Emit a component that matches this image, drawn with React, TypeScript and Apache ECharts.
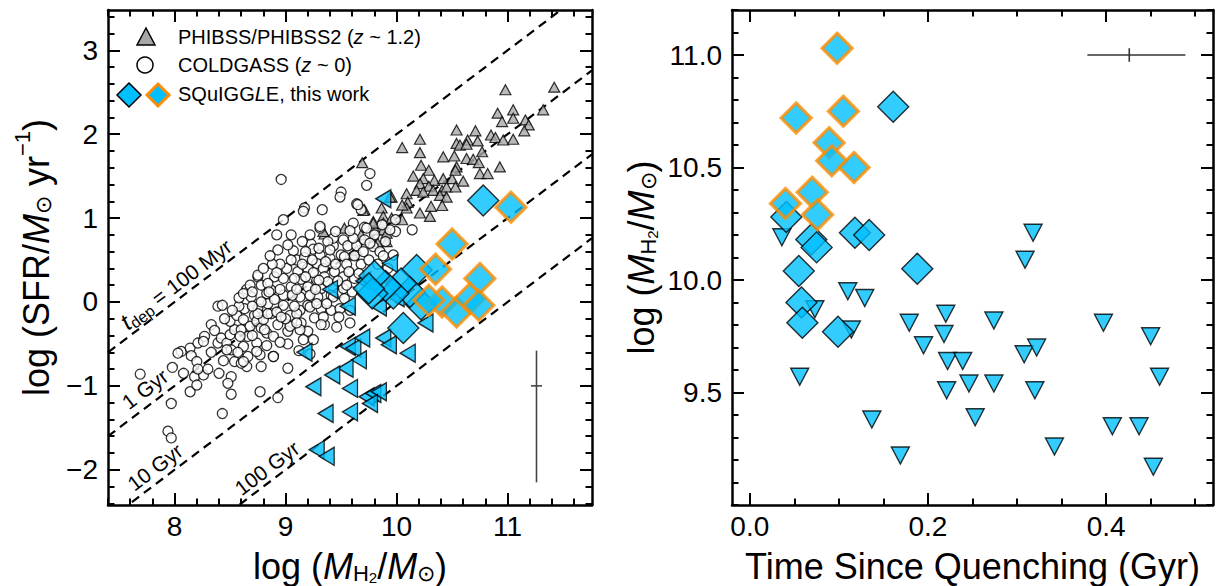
import React, { useEffect, useRef } from 'react';
import * as echarts from 'echarts';

// ---------- DATA (left panel: log M_H2 vs log SFR) ----------
const coldgass: [number, number][] = [
  [7.69,-0.86],[7.97,-1.21],[8.43,-1.33],[7.98,-0.78],[8.06,-0.59],[8.03,-0.61],[8.14,-0.55],[8.21,-0.49],[8.27,-0.41],[8.26,-0.47],
  [8.15,-0.64],[8.20,-0.71],[8.08,-0.85],[8.18,-0.89],[8.26,-0.87],[8.21,-0.80],[8.14,-1.07],[8.20,-0.99],[8.33,-0.27],[8.36,-0.34],
  [8.39,-0.49],[8.42,-0.43],[8.39,-0.05],[8.43,-0.04],[8.47,-0.49],[8.50,-0.39],[8.54,-0.33],[8.50,-0.23],[8.56,-0.16],[8.63,-0.08],
  [8.65,0.15],[8.62,-0.21],[8.60,-0.33],[8.68,-0.29],[8.66,-0.41],[8.59,-0.41],[8.51,-0.57],[8.62,-0.53],[8.54,-0.71],[8.65,-0.77],
  [8.60,-0.73],[8.51,-0.89],[8.48,-0.97],[8.51,-1.10],[8.66,-0.65],[8.77,-0.63],[8.78,-0.77],[8.77,-1.07],[8.74,-0.49],[8.69,0.06],
  [8.75,-0.08],[8.72,-0.16],[8.74,-0.23],[8.78,-0.31],[8.83,-0.37],[8.80,-0.21],[8.75,0.30],[8.78,0.20],[8.83,0.10],[8.84,-0.02],
  [8.87,-0.14],[8.87,0.14],[8.89,-0.65],
  [8.96,1.46],[9.76,1.53],[9.73,1.39],[9.50,1.31],[9.49,1.25],[9.64,1.17],[9.68,1.10],[9.17,1.12],[9.16,1.08],[9.33,1.10],
  [8.98,0.98],[9.31,0.88],[9.61,0.94],[9.71,0.89],[9.99,0.98],[9.99,0.84],[9.07,0.61],[9.23,0.69],[9.25,0.63],[9.31,0.56],
  [9.43,0.67],[9.52,0.74],[9.56,0.67],[9.64,0.67],[9.71,0.74],[9.79,0.66],[9.97,0.56],[9.10,0.50],[9.17,0.53],[9.28,0.46],
  [9.40,0.52],[9.50,0.56],[9.34,0.40],[9.20,0.40],[9.11,0.36],[9.01,0.40],[8.90,0.30],[8.75,0.32],[8.84,0.22],[8.98,0.28],
  [9.05,0.18],[9.14,0.27],[9.20,0.18],[9.28,0.26],[9.32,0.16],[9.44,0.36],[9.52,0.30],[9.43,0.18],[9.29,0.06],[9.13,0.06],
  [8.98,0.08],[8.90,0.03],[8.78,0.00],[8.75,-0.14],[8.84,-0.14],[8.98,-0.04],[9.04,-0.16],[9.13,-0.10],[9.20,-0.04],[9.32,-0.08],
  [9.41,-0.10],[9.26,-0.19],[9.14,-0.25],[8.93,-0.27],[8.81,-0.33],[9.02,-0.35],[9.20,-0.35],[9.35,-0.27],[9.58,-0.25],[9.47,0.10],
  [9.53,0.04],[9.52,0.16],[9.41,0.08],
  [7.94,-1.54],[7.97,-1.62],[8.93,-1.14],[9.02,-0.79],[8.89,-0.65],[9.16,-0.45],[9.25,-0.45],[9.34,-0.18],[9.32,-0.27],[9.13,-0.33],
  [9.04,-0.29],[8.89,-0.41],[9.58,-0.10],[9.49,-0.08],[9.43,0.06],[9.22,-0.06],[9.10,-0.14],[8.74,-0.59],[8.62,-0.71],[8.47,-0.57],
  [9.30,0.64],[9.43,0.76],[9.53,0.54],[9.61,0.76],[9.65,1.16],[9.94,0.86],[10.14,0.86],[9.31,0.90],[9.73,0.88],
  [8.95,0.45],[9.05,0.50],[9.15,0.45],[9.25,0.35],[9.35,0.30],[9.45,0.45],[9.55,0.45],[9.62,0.55],[9.68,0.45],[9.75,0.50],
  [9.85,0.60],[9.90,0.72],[9.80,0.80],[9.58,0.85],[9.45,0.84],[9.38,0.72],[9.15,0.72],[9.05,0.80],[8.93,0.62],[8.88,0.45],
  [8.95,0.15],[9.08,0.28],[9.22,0.08],[9.37,-0.02],[9.48,-0.18],[9.38,0.24],[9.62,0.28],[9.08,-0.05],[8.92,-0.12],[8.85,0.12],
  [9.00,-0.20],[9.10,-0.25],[9.30,0.26],[8.70,-0.05],[8.58,-0.05],[8.68,0.20],[8.92,0.80],[9.02,0.68],[9.22,0.80],[9.87,0.92],
  [8.45,-0.20],[8.52,-0.10],[8.58,0.05],[8.62,0.10],[8.70,0.12],[8.80,0.40],[8.86,0.55],[8.92,0.35],[8.96,-0.18],[9.06,0.08],
  [9.10,0.15],[9.18,0.30],[9.24,0.50],[9.27,0.15],[9.36,0.48],[9.40,0.62],[9.47,0.25],[9.57,0.36],[9.60,0.12],[9.66,0.34],
  [9.70,0.60],[9.76,0.70],[9.83,0.45],[9.88,0.55],[9.92,0.40],[9.02,-0.50],[9.12,-0.58],[9.22,-0.62],[8.95,-0.48],[8.83,-0.52],
  [8.70,-0.40],[8.57,-0.60],[8.44,-0.70],[8.33,-0.60],[8.30,-0.80],[8.40,-0.85],[9.28,-0.02],[9.18,0.60],[9.55,0.20],[9.46,-0.30]
];

const phibss: [number, number][] = [
  [10.98,2.53],[11.42,2.56],[11.32,2.29],[10.91,2.25],[11.05,2.29],[11.05,2.19],[10.95,2.15],[11.16,2.17],[11.19,2.11],[11.15,2.04],
  [10.54,2.05],[10.71,2.04],[10.21,1.94],[10.05,1.84],[10.85,1.99],[10.89,1.96],[10.96,1.93],[11.05,1.94],[10.54,1.89],[10.64,1.93],
  [10.57,1.87],[10.73,1.92],[10.63,1.88],[10.21,1.78],[10.42,1.73],[10.52,1.74],[10.63,1.71],[10.77,1.79],[10.69,1.70],[10.74,1.66],
  [10.22,1.63],[10.54,1.61],[10.29,1.57],[10.15,1.50],[10.24,1.47],[10.34,1.45],[10.42,1.47],[10.50,1.47],[10.53,1.57],[10.60,1.44],
  [10.75,1.53],[10.82,1.53],[10.93,1.61],[10.21,1.41],[10.29,1.38],[10.18,1.33],[10.24,1.31],[10.33,1.33],[10.41,1.33],[10.45,1.37],
  [10.53,1.37],[10.09,1.29],[10.39,1.27],[10.45,1.25],[10.10,1.19],[10.09,1.12],[10.31,1.14],[10.41,1.15],[10.21,1.06],[10.30,1.02],
  [9.955,1.25],[9.69,1.66],[9.94,1.25],[9.865,1.12],[9.71,1.10],[9.88,1.02],[9.79,0.96],[9.53,0.88],[9.35,0.81],[9.68,0.80],
  [9.81,0.86],[9.88,0.86],[9.91,0.72],[9.79,0.72],[9.61,0.56],[10.05,1.155],[10.05,0.98],[9.955,1.00],[9.34,0.84],[9.70,1.09],
  [9.79,0.94],[9.88,0.94],[9.91,0.82],[9.83,0.70],[9.64,0.62]
];

const squiggleLimits: [number, number][] = [
  [9.88,1.23],[9.40,0.15],[9.56,-0.05],[9.84,-0.06],[10.26,-0.25],[9.17,-0.60],[9.56,-0.53],[9.61,-0.55],[9.69,-0.43],[9.88,-0.43],
  [9.93,-0.51],[10.10,-0.61],[9.66,-0.69],[9.54,-0.79],[9.42,-0.87],[9.25,-1.01],[9.58,-1.03],[9.73,-1.13],[9.79,-1.09],[9.84,-1.07],
  [9.76,-1.21],[9.36,-1.33],[9.58,-1.31],[9.28,-1.76],[9.37,-1.84],[9.94,0.46],[10.00,0.05],[9.70,0.25]
];
const squiggleDet: [number, number][] = [
  [10.78,1.21],[10.22,-0.03],[10.18,0.38],[10.12,0.12],[10.06,-0.31],[10.04,0.22],[9.97,0.10],[9.90,0.19],[9.80,0.31],[9.78,0.10],[9.75,0.16]
];
const squiggleDetOrange: [number, number][] = [
  [11.03,1.13],[10.50,0.69],[10.35,0.39],[10.75,0.28],[10.41,0.00],[10.29,0.02],[10.54,-0.12],[10.66,0.04],[10.74,-0.04]
];
const depletionLogYr = [8, 9, 10, 11];
const leftErrX = [11.26, 11.21, 11.31];
const leftErrY = [-0.58, -2.15, -1.0];

// ---------- DATA (right panel: time since quenching vs log M_H2) ----------
const quenchLimits: [number, number][] = [
  [0.036,10.19],[0.110,9.95],[0.129,9.92],[0.073,9.87],[0.114,9.78],[0.056,9.57],[0.318,10.21],[0.309,10.09],[0.179,9.81],[0.220,9.85],
  [0.195,9.71],[0.218,9.76],[0.274,9.82],[0.222,9.64],[0.239,9.64],[0.308,9.67],[0.322,9.70],[0.221,9.51],[0.246,9.54],[0.274,9.54],
  [0.320,9.51],[0.253,9.39],[0.397,9.81],[0.450,9.75],[0.460,9.57],[0.407,9.35],[0.437,9.35],[0.342,9.26],[0.453,9.17],[0.137,9.38],[0.169,9.22]
];
const quenchDet: [number, number][] = [
  [0.161,10.77],[0.041,10.28],[0.069,10.18],[0.075,10.145],[0.118,10.21],[0.134,10.20],[0.055,10.04],[0.188,10.05],[0.058,9.90],[0.059,9.81],[0.099,9.77]
];
const quenchDetOrange: [number, number][] = [
  [0.098,11.03],[0.052,10.72],[0.105,10.75],[0.089,10.61],[0.092,10.53],[0.117,10.50],[0.070,10.39],[0.040,10.34],[0.076,10.29]
];
const rightErrX = [0.379, 0.489, 0.426];
const rightErrY = [11.0, 10.97, 11.03];

const leftXTicks = [8, 9, 10, 11];
const leftYTicks = [-2, -1, 0, 1, 2, 3];
const rightXTicks = [0, 0.2, 0.4];
const rightYTicks = [9.5, 10, 10.5, 11];

// ---------- styling ----------
const FONT = '"Liberation Sans", Arial, Helvetica, sans-serif';
const BLUE = '#00BFFF';
const ORANGE = '#FF8C00';
const TITLE = 36;
const LH = 44;

function minors(lo: number, hi: number, step: number, majors: number[]) {
  const out: number[] = [];
  const n0 = Math.ceil(lo / step - 1e-9), n1 = Math.floor(hi / step + 1e-9);
  for (let k = n0; k <= n1; k++) {
    const v = +(k * step).toFixed(5);
    if (!majors.some((m) => Math.abs(m - v) < 1e-6)) out.push(v);
  }
  return out;
}

const nameRich = {
  a: { fontSize: TITLE, fontFamily: FONT, color: '#000', lineHeight: LH, verticalAlign: 'middle' },
  i: { fontSize: TITLE, fontFamily: FONT, fontStyle: 'italic', color: '#000', lineHeight: LH, verticalAlign: 'middle' },
  s: { fontSize: 22, fontFamily: FONT, color: '#000', lineHeight: LH, verticalAlign: 'middle', padding: [14, 0, 0, 0] },
  ss: { fontSize: 15, fontFamily: FONT, color: '#000', lineHeight: LH, verticalAlign: 'middle', padding: [22, 0, 0, 0] },
  p: { fontSize: 22, fontFamily: FONT, color: '#000', lineHeight: LH, verticalAlign: 'middle', padding: [0, 0, 28, 0] },
};

function axes(dim: 'x' | 'y', gridIndex: number, min: number, max: number, majors: number[], minorVals: number[],
  fmt: (v: number) => string, name: string, nameGap: number) {
  const pos = dim === 'x' ? ['bottom', 'top'] : ['left', 'right'];
  const base = { type: 'value', gridIndex, min, max, splitLine: { show: false }, minorTick: { show: false }, silent: true };
  const line = { show: true, onZero: false, lineStyle: { color: '#000', width: 2.5 } };
  const noLine = { show: false, onZero: false };
  const majTick = { show: true, inside: true, length: 12, customValues: majors, lineStyle: { color: '#000', width: 2 } };
  const minTick = { show: true, inside: true, length: 6.5, customValues: minorVals, lineStyle: { color: '#000', width: 2 } };
  return [
    {
      ...base, position: pos[0], axisLine: line, axisTick: majTick,
      axisLabel: { show: true, customValues: majors, formatter: fmt, fontSize: 28, fontFamily: FONT, color: '#000', margin: dim === 'x' ? 7 : 10 },
      name, nameLocation: 'middle', nameGap,
      nameTextStyle: { rich: nameRich, fontSize: TITLE, fontFamily: FONT, color: '#000', lineHeight: LH },
    },
    { ...base, position: pos[0], axisLine: noLine, axisTick: minTick, axisLabel: { show: false } },
    { ...base, position: pos[1], axisLine: line, axisTick: majTick, axisLabel: { show: false } },
    { ...base, position: pos[1], axisLine: noLine, axisTick: minTick, axisLabel: { show: false } },
  ];
}

const fmtInt = (v: number) => (v < 0 ? '\u2212' + Math.abs(v) : String(v));
const fmt1 = (v: number) => v.toFixed(1);

const LX: [number, number] = [7.4, 11.76];
const LY: [number, number] = [-2.42, 3.48];
const RX: [number, number] = [-0.02, 0.52];
const RY: [number, number] = [9.0, 11.2];

function buildOption() {
  const xAxis = [
    ...axes('x', 0, LX[0], LX[1], leftXTicks, minors(LX[0], LX[1], 0.2, leftXTicks), fmtInt,
      '{a|log (}{i|M}{s|H}{ss|2}{a|/}{i|M}{s|\u2299}{a|)}', 24),
    ...axes('x', 1, RX[0], RX[1], rightXTicks, minors(RX[0], RX[1], 0.05, rightXTicks), fmt1,
      '{a|Time Since Quenching (Gyr)}', 24),
  ];
  const yAxis = [
    ...axes('y', 0, LY[0], LY[1], leftYTicks, minors(LY[0], LY[1], 0.2, leftYTicks), fmtInt,
      '{a|log (SFR/}{i|M}{s|\u2299}{a| yr}{p|\u22121}{a|)}', 50),
    ...axes('y', 1, RY[0], RY[1], rightYTicks, minors(RY[0], RY[1], 0.1, rightYTicks), fmt1,
      '{a|log (}{i|M}{s|H}{ss|2}{a|/}{i|M}{s|\u2299}{a|)}', 58),
  ];

  const dashSeries = depletionLogYr.map((t) => ({
    type: 'line', xAxisIndex: 0, yAxisIndex: 0, symbol: 'none', clip: true, silent: true,
    data: [[LX[0], LX[0] - t], [LX[1], LX[1] - t]],
    lineStyle: { color: '#000', width: 2.2, type: [9, 6] }, z: 1,
  }));

  const errLine = (xi: number, data: number[][], color: string) => ({
    type: 'line', xAxisIndex: xi, yAxisIndex: xi, symbol: 'none', clip: false, silent: true, data,
    lineStyle: { color, width: 1.6 }, z: 2,
  });

  const series: any[] = [
    ...dashSeries,
    {
      type: 'scatter', xAxisIndex: 0, yAxisIndex: 0, data: phibss, symbol: 'triangle', symbolSize: [11, 10],
      itemStyle: { color: '#a8a8a8', borderColor: '#000', borderWidth: 1.2 }, z: 3,
    },
    {
      type: 'scatter', xAxisIndex: 0, yAxisIndex: 0, data: coldgass, symbol: 'circle', symbolSize: 10,
      itemStyle: { color: '#fff', borderColor: '#000', borderWidth: 1.3 }, z: 3,
    },
    {
      type: 'scatter', xAxisIndex: 0, yAxisIndex: 0, data: squiggleLimits, symbol: 'triangle', symbolRotate: 90, symbolSize: [18, 15],
      itemStyle: { color: BLUE, borderColor: '#000', borderWidth: 1.4 }, z: 4,
    },
    {
      type: 'scatter', xAxisIndex: 0, yAxisIndex: 0, data: squiggleDet, symbol: 'diamond', symbolSize: 31,
      itemStyle: { color: BLUE, borderColor: '#000', borderWidth: 1.4 }, z: 5,
    },
    {
      type: 'scatter', xAxisIndex: 0, yAxisIndex: 0, data: squiggleDetOrange, symbol: 'diamond', symbolSize: 30,
      itemStyle: { color: BLUE, borderColor: ORANGE, borderWidth: 3.2 }, z: 6,
    },
    errLine(0, [[leftErrX[0], leftErrY[0]], [leftErrX[0], leftErrY[1]]], '#444'),
    errLine(0, [[leftErrX[1], leftErrY[2]], [leftErrX[2], leftErrY[2]]], '#444'),

    {
      type: 'scatter', xAxisIndex: 4, yAxisIndex: 4, data: quenchLimits, symbol: 'triangle', symbolRotate: 180, symbolSize: [18, 17],
      itemStyle: { color: BLUE, borderColor: '#000', borderWidth: 1.4 }, z: 4,
    },
    {
      type: 'scatter', xAxisIndex: 4, yAxisIndex: 4, data: quenchDet, symbol: 'diamond', symbolSize: 31,
      itemStyle: { color: BLUE, borderColor: '#000', borderWidth: 1.4 }, z: 5,
    },
    {
      type: 'scatter', xAxisIndex: 4, yAxisIndex: 4, data: quenchDetOrange, symbol: 'diamond', symbolSize: 30,
      itemStyle: { color: BLUE, borderColor: ORANGE, borderWidth: 3.2 }, z: 6,
    },
    errLine(4, [[rightErrX[0], rightErrY[0]], [rightErrX[1], rightErrY[0]]], '#333'),
    errLine(4, [[rightErrX[2], rightErrY[1]], [rightErrX[2], rightErrY[2]]], '#333'),
  ];

  const legRich = {
    a: { fontSize: 20, fontFamily: FONT, fill: '#000' },
    i: { fontSize: 20, fontFamily: FONT, fontStyle: 'italic', fill: '#000' },
  };
  const lineLabRich = {
    a: { fontSize: 21, fontFamily: FONT, fill: '#000', lineHeight: 28, verticalAlign: 'middle' },
    i: { fontSize: 24, fontFamily: FONT, fontStyle: 'italic', fill: '#000', lineHeight: 28, verticalAlign: 'middle' },
    s: { fontSize: 16, fontFamily: FONT, fill: '#000', lineHeight: 28, verticalAlign: 'middle', padding: [12, 0, 0, 0] },
  };
  const ROT = Math.atan2(495 / (LY[1] - LY[0]), 484 / (LX[1] - LX[0]));
  const lineLabel = (x: number, y: number, text: string) => ({
    type: 'text', x, y, rotation: ROT, z: 10,
    style: { text, rich: lineLabRich, align: 'center', verticalAlign: 'middle', font: `21px ${FONT}` },
  });

  const graphic = [
    { type: 'polygon', shape: { points: [[146, 28], [137, 45], [155, 45]] }, style: { fill: '#a8a8a8', stroke: '#000', lineWidth: 1.5 }, z: 10 },
    { type: 'circle', shape: { cx: 145, cy: 65, r: 8 }, style: { fill: '#fff', stroke: '#000', lineWidth: 1.5 }, z: 10 },
    { type: 'polygon', shape: { points: [[129, 83], [141, 95], [129, 107], [117, 95]] }, style: { fill: BLUE, stroke: '#000', lineWidth: 1.5 }, z: 10 },
    { type: 'polygon', shape: { points: [[158, 84], [169, 95], [158, 106], [147, 95]] }, style: { fill: BLUE, stroke: ORANGE, lineWidth: 3 }, z: 10 },
    { type: 'text', x: 178, y: 37, z: 10, style: { text: '{a|PHIBSS/PHIBSS2 (}{i|z}{a| ~ 1.2)}', rich: legRich, verticalAlign: 'middle', font: `20px ${FONT}` } },
    { type: 'text', x: 178, y: 65, z: 10, style: { text: '{a|COLDGASS (}{i|z}{a| ~ 0)}', rich: legRich, verticalAlign: 'middle', font: `20px ${FONT}` } },
    { type: 'text', x: 178, y: 94, z: 10, style: { text: '{a|SQuIGG}{i|L}{a|E, this work}', rich: legRich, verticalAlign: 'middle', font: `20px ${FONT}` } },
    lineLabel(176, 284, '{i|t}{s|dep}{a| = 100 Myr}'),
    lineLabel(145, 389, '{a|1 Gyr}'),
    lineLabel(155, 467, '{a|10 Gyr}'),
    lineLabel(267, 468, '{a|100 Gyr}'),
  ];

  return {
    animation: false,
    backgroundColor: '#fff',
    grid: [
      { left: 108, top: 10, width: 484, height: 495, outerBoundsMode: 'none', containLabel: false },
      { left: 732, top: 10, width: 481, height: 495, outerBoundsMode: 'none', containLabel: false },
    ],
    xAxis,
    yAxis,
    series,
    graphic,
  };
}

export default function App() {
  const ref = useRef<HTMLDivElement>(null);
  useEffect(() => {
    if (!ref.current) return;
    const chart = echarts.init(ref.current, undefined, { renderer: 'svg' });
    chart.setOption(buildOption() as any);
    return () => chart.dispose();
  }, []);
  return (
    <div
      ref={ref}
      style={{ position: 'fixed', left: 0, top: 0, width: 1225, height: 586, background: '#fff' }}
    />
  );
}
